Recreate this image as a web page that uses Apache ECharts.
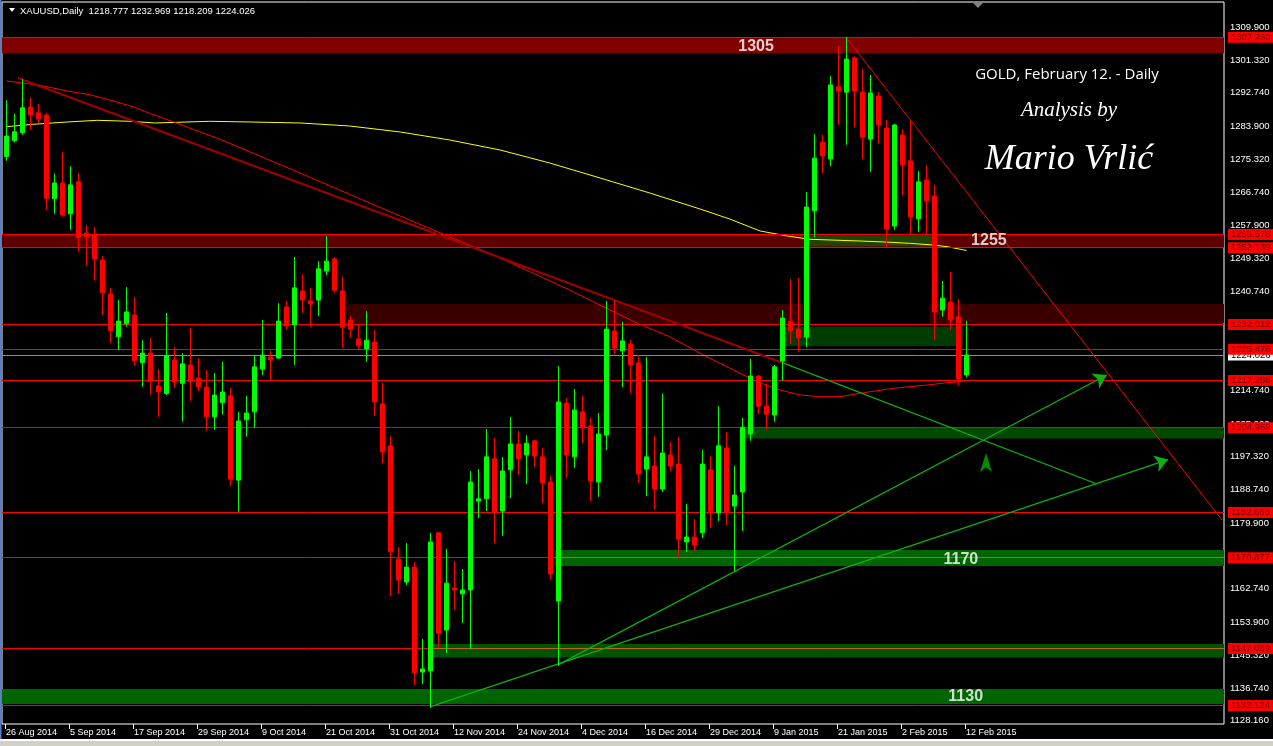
<!DOCTYPE html>
<html><head><meta charset="utf-8">
<script src="https://cdn.jsdelivr.net/npm/echarts@6/dist/echarts.min.js"></script>
<style>html,body{margin:0;padding:0;background:#000;overflow:hidden}#c{width:1273px;height:746px}</style>
</head><body><div id="c"></div>
<script>
// ---------- data ----------
const dates = [
'26 Aug 2014','27 Aug 2014','28 Aug 2014','29 Aug 2014',
'1 Sep 2014','2 Sep 2014','3 Sep 2014','4 Sep 2014','5 Sep 2014','8 Sep 2014','9 Sep 2014','10 Sep 2014','11 Sep 2014','12 Sep 2014','15 Sep 2014','16 Sep 2014','17 Sep 2014','18 Sep 2014','19 Sep 2014','22 Sep 2014','23 Sep 2014','24 Sep 2014','25 Sep 2014','26 Sep 2014','29 Sep 2014','30 Sep 2014',
'1 Oct 2014','2 Oct 2014','3 Oct 2014','6 Oct 2014','7 Oct 2014','8 Oct 2014','9 Oct 2014','10 Oct 2014','13 Oct 2014','14 Oct 2014','15 Oct 2014','16 Oct 2014','17 Oct 2014','20 Oct 2014','21 Oct 2014','22 Oct 2014','23 Oct 2014','24 Oct 2014','27 Oct 2014','28 Oct 2014','29 Oct 2014','30 Oct 2014','31 Oct 2014',
'3 Nov 2014','4 Nov 2014','5 Nov 2014','6 Nov 2014','7 Nov 2014','10 Nov 2014','11 Nov 2014','12 Nov 2014','13 Nov 2014','14 Nov 2014','17 Nov 2014','18 Nov 2014','19 Nov 2014','20 Nov 2014','21 Nov 2014','24 Nov 2014','25 Nov 2014','26 Nov 2014','27 Nov 2014','28 Nov 2014',
'1 Dec 2014','2 Dec 2014','3 Dec 2014','4 Dec 2014','5 Dec 2014','8 Dec 2014','9 Dec 2014','10 Dec 2014','11 Dec 2014','12 Dec 2014','15 Dec 2014','16 Dec 2014','17 Dec 2014','18 Dec 2014','19 Dec 2014','22 Dec 2014','23 Dec 2014','24 Dec 2014','26 Dec 2014','29 Dec 2014','30 Dec 2014','31 Dec 2014',
'2 Jan 2015','5 Jan 2015','6 Jan 2015','7 Jan 2015','8 Jan 2015','9 Jan 2015','12 Jan 2015','13 Jan 2015','14 Jan 2015','15 Jan 2015','16 Jan 2015','19 Jan 2015','20 Jan 2015','21 Jan 2015','22 Jan 2015','23 Jan 2015','26 Jan 2015','27 Jan 2015','28 Jan 2015','29 Jan 2015','30 Jan 2015',
'2 Feb 2015','3 Feb 2015','4 Feb 2015','5 Feb 2015','6 Feb 2015','9 Feb 2015','10 Feb 2015','11 Feb 2015','12 Feb 2015'];

const open = [1276.0,1280.2,1282.3,1289.0,1287.5,1286.9,1265.0,1269.1,1261.0,1269.4,
1256.0,1255.5,1248.9,1240.0,1228.8,1232.2,1234.5,1222.0,1224.5,1215.9,
1213.9,1222.7,1216.6,1221.4,1218.0,1215.6,1207.8,1211.5,1213.3,1191.2,
1207.0,1209.1,1220.3,1223.5,1223.2,1236.6,1231.9,1240.8,1238.2,1238.4,
1246.0,1249.2,1240.8,1233.2,1228.2,1225.6,1227.4,1211.2,1200.2,1170.5,
1164.5,1168.4,1140.9,1141.2,1177.4,1151.9,1162.9,1161.4,1162.4,1185.7,
1186.3,1196.8,1183.1,1193.9,1200.7,1197.8,1201.5,1197.3,1190.7,1159.5,
1211.4,1197.3,1209.1,1205.4,1190.7,1203.0,1230.3,1225.1,1226.9,1221.9,
1194.1,1194.9,1188.9,1197.8,1195.4,1175.0,1176.3,1177.4,1193.9,1182.6,
1199.6,1184.4,1188.1,1203.3,1218.5,1210.6,1208.3,1222.4,1232.9,1230.8,
1228.7,1261.8,1279.8,1275.4,1294.3,1292.9,1301.9,1292.9,1280.6,1291.9,
1283.5,1257.8,1281.7,1274.9,1259.7,1269.9,1265.7,1235.8,1237.9,1234.0,1218.777];
const high = [1290.8,1287.2,1296.3,1291.5,1289.9,1287.5,1271.5,1277.2,1273.5,1271.7,
1258.1,1257.6,1250.0,1241.6,1238.4,1241.8,1239.2,1227.9,1228.5,1220.3,
1235.0,1226.1,1224.5,1231.1,1223.2,1220.1,1219.3,1222.2,1215.4,1209.1,
1213.3,1223.8,1233.2,1225.1,1237.6,1238.2,1249.7,1245.2,1241.6,1248.6,
1255.2,1249.7,1244.5,1234.2,1231.9,1235.5,1230.6,1216.7,1202.8,1173.7,
1174.7,1169.7,1149.6,1177.4,1177.6,1173.2,1170.0,1167.9,1193.6,1194.1,
1204.6,1202.3,1197.3,1207.8,1204.1,1203.0,1201.7,1199.6,1192.3,1221.1,
1212.7,1215.1,1213.3,1207.5,1208.8,1238.2,1238.4,1232.7,1227.9,1224.0,
1223.5,1202.8,1213.8,1201.2,1202.5,1185.0,1181.0,1199.1,1197.5,1210.6,
1203.8,1194.9,1207.5,1223.0,1218.8,1216.4,1221.4,1235.8,1243.9,1244.2,
1266.7,1281.9,1281.7,1297.1,1305.0,1307.4,1302.3,1299.0,1297.4,1292.9,
1285.6,1284.6,1283.2,1285.6,1272.2,1273.8,1268.6,1243.4,1245.8,1238.7,1232.969];
const low = [1274.9,1279.7,1281.7,1283.0,1284.7,1262.0,1261.0,1260.3,1256.8,1251.1,
1247.4,1243.5,1234.5,1227.2,1225.3,1231.4,1221.2,1215.7,1213.6,1207.8,
1213.5,1215.4,1206.5,1212.0,1214.6,1204.2,1204.4,1208.4,1189.7,1182.9,
1202.6,1204.9,1218.8,1217.0,1223.0,1230.6,1221.4,1235.0,1231.3,1234.2,
1245.0,1240.3,1225.8,1228.5,1225.3,1222.2,1208.0,1195.7,1160.8,1161.4,
1163.7,1137.5,1137.8,1131.5,1147.2,1145.9,1157.2,1153.8,1146.9,1181.3,
1183.1,1174.7,1176.6,1186.5,1192.6,1190.2,1194.7,1185.2,1165.0,1142.5,
1191.8,1194.4,1200.9,1185.7,1186.8,1199.1,1224.3,1215.6,1214.0,1190.5,
1187.0,1183.4,1188.1,1193.6,1170.8,1172.4,1172.6,1176.0,1178.7,1180.5,
1179.5,1167.4,1177.9,1201.5,1208.5,1204.4,1206.5,1217.2,1226.9,1224.8,
1226.1,1254.9,1271.7,1273.5,1284.3,1279.1,1283.8,1275.4,1272.0,1279.3,
1252.1,1256.8,1265.9,1255.5,1256.2,1255.7,1227.9,1234.0,1230.6,1216.1,1218.209];
const close = [1281.4,1282.5,1288.8,1286.9,1285.9,1265.1,1269.1,1260.7,1268.6,1254.8,
1255.0,1249.2,1240.3,1230.4,1232.9,1235.3,1222.5,1224.5,1217.1,1214.4,
1223.9,1216.9,1221.7,1217.1,1215.7,1207.8,1213.5,1214.3,1191.5,1206.7,
1208.8,1220.9,1224.0,1222.7,1232.9,1231.6,1241.6,1238.4,1237.4,1246.6,
1248.6,1241.0,1231.3,1230.8,1226.4,1227.9,1211.7,1198.6,1172.4,1165.0,
1168.4,1140.7,1141.7,1175.0,1151.1,1164.2,1162.4,1162.4,1190.7,1186.3,
1197.3,1182.6,1193.6,1200.7,1196.8,1200.9,1197.5,1190.5,1166.6,1211.7,
1197.8,1209.6,1204.9,1191.0,1203.3,1230.8,1225.8,1227.7,1221.4,1192.8,
1197.3,1188.9,1198.3,1194.9,1175.8,1176.3,1174.2,1195.4,1183.1,1200.2,
1182.9,1187.3,1205.1,1218.5,1210.6,1208.5,1220.9,1233.7,1230.3,1228.5,
1262.8,1275.6,1276.2,1294.8,1293.2,1301.6,1293.2,1281.1,1292.7,1284.3,
1257.0,1284.3,1273.8,1260.2,1269.4,1264.4,1235.3,1238.9,1233.2,1217.7,1224.026];

// moving averages read at sample bars: [bar index, price]
const maSlow = [[0,1283.85],[3.3,1284.47],[7.6,1285.08],[11.4,1285.52],[15.4,1285.26],[18.6,1284.82],[21.4,1285.0],[25.4,1285.26],[30.4,1285.08],[36.7,1284.82],[42.9,1284.03],[49.2,1282.46],[55.4,1280.36],[61.7,1277.74],[67.9,1274.33],[74.2,1270.40],[80.4,1266.47],[86.7,1262.27],[90.4,1259.65],[94.2,1256.51],[97.6,1255.20],[100.4,1254.33],[106.7,1253.88],[109.8,1253.62],[112.9,1253.28],[115.8,1252.84],[117.6,1252.39],[120,1251.4]];
const maFast = [[0,1295.82],[1.7,1295.38],[4.2,1294.70],[7.6,1293.20],[10.4,1292.23],[12.9,1290.84],[15.8,1289.09],[17.9,1287.36],[20.8,1285.16],[23.3,1283.16],[26.7,1280.54],[36.7,1271.71],[49.2,1260.44],[61.7,1249.43],[70.4,1241.04],[74.6,1236.66],[78.8,1232.39],[82.9,1228.80],[87.1,1224.00],[90.4,1220.59],[93.8,1217.01],[96.7,1214.83],[99.2,1213.52],[101.7,1213.07],[104.2,1213.07],[106.7,1213.96],[110.8,1215.27],[115.1,1216.14],[117.6,1216.74],[120,1217.2]];

const yTicks = [1309.900,1301.320,1292.740,1283.900,1275.320,1266.740,1257.900,1249.320,1240.740,1231.900,1223.320,1214.740,1205.900,1197.320,1188.740,1179.900,1171.320,1162.740,1153.900,1145.320,1136.740,1128.160];
const xTickBars = [0,8,16,24,32,40,48,56,64,72,80,88,96,104,112,120];

// horizontal levels (price labels at right)
const levels = [1307.260,1255.576,1252.139,1232.012,1225.476,1217.288,1204.959,1182.688,1170.877,1147.039,1132.124];
const bidPrice = 1224.026;

// zones: start bar, end bar (null = chart edge), low price, high price
const zoneStart = [null, null, 42.7, 115.4, 97.3, 99.9, 92.3, 68.6, 52.9, null];
const zoneEnd   = [null, null, 100.4, null, 119.6, 115.8, null, null, null, null];
const zoneLow   = [1303.08, 1252.139, 1232.4, 1232.4, 1226.36, 1252.5, 1202.12, 1168.70, 1144.72, 1132.53];
const zoneHigh  = [1307.26, 1255.576, 1237.4, 1237.4, 1231.42, 1255.2, 1204.959, 1172.89, 1148.25, 1136.46];

const zoneLabelText = ['1305','1255','1170','1130'];
const zoneLabelPos  = [[93.7,1304.74],[122.8,1253.9],[119.3,1170.3],[119.9,1134.4]];

// drawn trend lines: [[bar, price],[bar, price]]
const lineDownRed   = [[1.44,1296.61],[97.06,1221.91]];
const lineDownGreen = [[97.06,1221.91],[136.31,1190.19]];
const lineUpA       = [[52.94,1131.79],[145.19,1196.58]];
const lineUpB       = [[68.94,1142.79],[137.53,1218.76]];
const lineTopRed    = [[104.94,1307.28],[151.94,1180.75]];
const upMarker      = [122.44,1198.3];

// ---------- chart ----------
const X_MIN = -0.5625, X_MAX = 152.1875;
const Y_MIN = 1127.28, Y_MAX = 1316.53;
const TICK_LEN = 0.5; // bars (4px) for price-axis ticks
const zoneColors = ['#800000','#5e0000','#3a0000','#3a0000','#003c00','#224400','#004a00','#006400','#005400','#006400'];

const chart = echarts.init(document.getElementById('c'), null, {renderer:'canvas'});

const areaData = zoneLow.map((lo, k) => [
  {coord:[zoneStart[k] == null ? X_MIN : zoneStart[k], zoneHigh[k]], itemStyle:{color: zoneColors[k], opacity:1}},
  {coord:[zoneEnd[k] == null ? X_MAX : zoneEnd[k], lo]}
]);

const levelLines = levels.map(v => ({
  yAxis: v,
  label: {formatter: v.toFixed(3)}
}));

function seg(pts, color, width, arrow) {
  return [
    {coord: pts[0], symbol:'none', lineStyle:{color, width, type:'solid'}},
    {coord: pts[1], symbol: arrow ? 'arrow' : 'none', symbolSize: arrow ? 13 : 0}
  ];
}

const candleData = dates.map((d, i) => [i, open[i], close[i], low[i], high[i]]);
const font = 'Liberation Sans, Arial, sans-serif';

const option = {
  backgroundColor: '#000000',
  animation: false,
  grid: {left: 2, right: 49, top: 2, bottom: 22, show: true, borderColor: '#ffffff', borderWidth: 1, backgroundColor: '#000000'},
  xAxis: {
    type: 'value', min: X_MIN, max: X_MAX,
    splitLine: {show: false}, axisLine: {show: false},
    axisTick: {show: true, customValues: xTickBars.map(b => b - 0.2), length: 5, inside: false, lineStyle: {color: '#ffffff'}},
    axisLabel: {customValues: xTickBars.map(b => b - 0.2), formatter: v => dates[Math.round(v)] || '', color: '#ffffff', fontSize: 9, fontFamily: font, align: 'left', margin: 4, padding: [0,0,0,1], hideOverlap: false}
  },
  yAxis: {
    type: 'value', position: 'right', min: Y_MIN, max: Y_MAX, scale: true,
    splitLine: {show: false}, axisLine: {show: false},
    axisTick: {show: false},
    axisLabel: {customValues: yTicks, formatter: v => v.toFixed(3), color: '#ffffff', fontSize: 9.5, fontFamily: font, margin: 6}
  },
  series: [
    { // zones
      type: 'line', z: 1, data: [], silent: true,
      markArea: {silent: true, data: areaData}
    },
    { // price-axis ticks (outside the plot)
      type: 'line', z: 1, data: [], silent: true, clip: false,
      markLine: {silent: true, symbol: 'none', animation: false, label: {show: false},
        lineStyle: {color: '#ffffff', width: 1, type: 'solid'},
        data: yTicks.map(v => [{coord: [X_MAX, v]}, {coord: [X_MAX + TICK_LEN, v]}])}
    },
    { // bid line
      type: 'line', z: 2, data: [], silent: true,
      markLine: {silent: true, symbol: 'none', animation: false,
        lineStyle: {color: '#8c8c8c', width: 1, type: 'solid'},
        label: {show: true, position: 'end', distance: 4, backgroundColor: '#ffffff', color: '#000000', fontSize: 9.5, fontFamily: font, padding: [1,3,0,3]},
        data: [{yAxis: bidPrice, label: {formatter: bidPrice.toFixed(3)}}]}
    },
    { // level lines
      type: 'line', z: 3, data: [], silent: true,
      markLine: {silent: true, symbol: 'none', animation: false,
        lineStyle: {color: '#ff0000', width: 1, type: 'solid'},
        label: {show: true, position: 'end', distance: 4, backgroundColor: '#ff0000', color: '#6e0000', fontSize: 9.5, fontFamily: font, padding: [1,3,0,3]},
        data: levelLines}
    },
    { // moving averages
      type: 'line', z: 4, data: maSlow, showSymbol: false, symbol: 'none', silent: true,
      lineStyle: {color: '#ffff00', width: 1}
    },
    {
      type: 'line', z: 4, data: maFast, showSymbol: false, symbol: 'none', silent: true,
      lineStyle: {color: '#ff0000', width: 1}
    },
    { // trend lines
      type: 'line', z: 5, data: [], silent: true,
      markLine: {silent: true, animation: false, label: {show: false},
        data: [
          seg([[zoneStart[7], levels[8]],[X_MAX, levels[8]]], '#c86400', 1, false),
          seg([[zoneStart[8], levels[9]],[X_MAX, levels[9]]], '#c86400', 1, false),
          seg(lineDownRed, '#a00000', 2, false),
          seg(lineDownGreen, '#10b010', 1.3, false),
          seg(lineUpA, '#10b010', 1.3, true),
          seg(lineUpB, '#10b010', 1.3, true),
          seg(lineTopRed, '#ff0000', 1, false)
        ]},
      markPoint: {silent: true, animation: false,
        data: [{coord: upMarker, symbol: 'arrow', symbolSize: [9, 19], itemStyle: {color: '#008c00'}, label: {show: false}}]}
    },
    { // candles
      type: 'candlestick', z: 6, data: candleData, barWidth: 4, silent: true,
      itemStyle: {color: '#00ff00', color0: '#ff0000', borderColor: '#00ff00', borderColor0: '#ff0000', borderWidth: 1}
    },
    { // zone labels
      type: 'scatter', z: 7, symbolSize: 0, silent: true,
      data: zoneLabelPos.map((p, k) => ({value: p, name: zoneLabelText[k]})),
      label: {show: true, position: 'inside', formatter: p => p.name, color: '#ffffff', fontSize: 16, fontWeight: 'bold', fontFamily: font}
    }
  ],
  graphic: [
    {type: 'rect', shape: {x: 0, y: 0, width: 1.5, height: 740}, style: {fill: '#5b7fc0'}, z: 100},
    {type: 'rect', shape: {x: 0, y: 739, width: 1273, height: 2}, style: {fill: '#ffffff'}, z: 100},
    {type: 'rect', shape: {x: 0, y: 741, width: 1273, height: 5}, style: {fill: '#d4d0c8'}, z: 100},
    {type: 'polygon', shape: {points: [[9,8],[15,8],[12,12]]}, style: {fill: '#ffffff'}, z: 100},
    {type: 'polygon', shape: {points: [[973,3],[983,3],[978,8]]}, style: {fill: '#808080'}, z: 100},
    {type: 'text', x: 20, y: 6, z: 100, style: {
      text: 'XAUUSD,Daily  ' + [open[120], high[120], low[120], close[120]].map(v => v.toFixed(3)).join(' '),
      fill: '#ffffff', font: '9.5px ' + font}},
    {type: 'text', x: 1067, y: 75, z: 100, style: {
      text: 'GOLD, February 12. - Daily', fill: '#ffffff', font: '15px "Open Sans", sans-serif',
      align: 'center', verticalAlign: 'middle', shadowBlur: 4, shadowColor: 'rgba(255,255,255,0.6)'}},
    {type: 'text', x: 1069, y: 110, z: 100, style: {
      text: 'Analysis by', fill: '#ffffff', font: 'italic 21px "Liberation Serif", serif',
      align: 'center', verticalAlign: 'middle', shadowBlur: 5, shadowColor: 'rgba(255,255,255,0.7)'}},
    {type: 'text', x: 1069, y: 160, z: 100, style: {
      text: 'Mario Vrlić', fill: '#ffffff', font: 'italic 36px "Liberation Serif", serif',
      align: 'center', verticalAlign: 'middle', shadowBlur: 6, shadowColor: 'rgba(255,255,255,0.7)'}}
  ]
};
chart.setOption(option);
</script>
</body></html>
